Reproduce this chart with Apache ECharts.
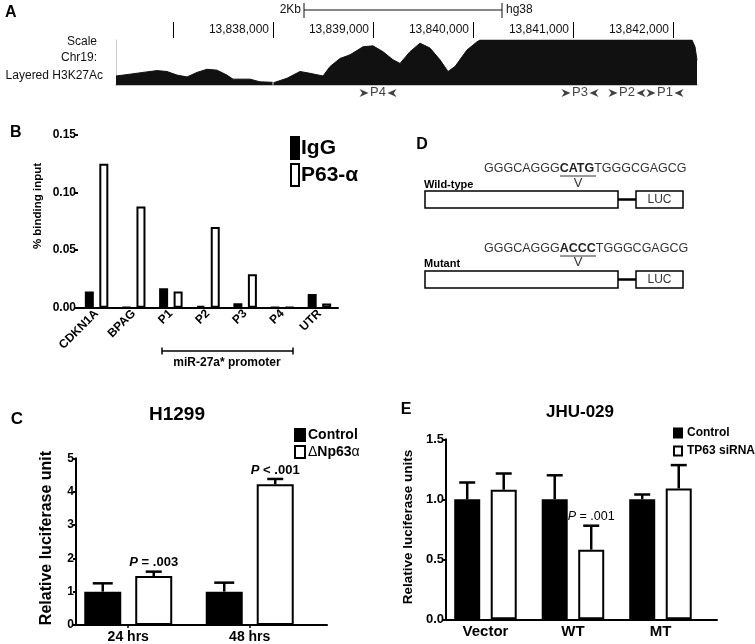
<!DOCTYPE html>
<html><head><meta charset="utf-8">
<script src="https://cdn.jsdelivr.net/npm/echarts@6/dist/echarts.min.js"></script>
<style>html,body{margin:0;padding:0;background:#fff}#c{width:755px;height:644px}</style>
</head><body><div id="c"></div>
<script>
// ---------- Panel A: H3K27Ac track ----------
const trackPos = [13836430,13836570,13836700,13836840,13836940,13837040,13837140,13837240,13837340,13837440,13837540,13837600,13837770,13837870,13837995,13838000,13838005,13838140,13838270,13838370,13838500,13838570,13838670,13838770,13838900,13839000,13839100,13839200,13839270,13839370,13839470,13839570,13839670,13839750,13839820,13839940,13840040,13840070,13842190,13842220,13842240];
const trackSignal = [20,24,28,32,30,22,18,28,35,33,22,13,13,7,6,'-',5,15,30,26,20,41,59,67,85,87,74,56,48,74,93,82,56,30,41,78,96,100,100,85,55];
const genomeTicks = [13837000,13838000,13839000,13840000,13841000,13842000];
const genomeLabels = [13838000,13839000,13840000,13841000,13842000];
const primerNames = ['P4','P3','P2','P1'];
const primerPos = [13839050,13841070,13841540,13841920];

// ---------- Panel B: ChIP ----------
const chipCategories = ['CDKN1A','BPAG','P1','P2','P3','P4','UTR'];
const chipIgG = [0.014,0.0005,0.017,0.0015,0.0038,0.0005,0.012];
const chipP63 = [0.125,0.088,0.014,0.070,0.029,0.0005,0.0037];

// ---------- Panel C: H1299 ----------
const h1299Categories = ['24 hrs','48 hrs'];
const h1299Control = [1.0,1.0];
const h1299ControlErr = [0.25,0.27];
const h1299DNp63 = [1.47,4.22];
const h1299DNp63Err = [0.13,0.16];
const h1299PValues = ['P = .003','P < .001'];

// ---------- Panel E: JHU-029 ----------
const jhuCategories = ['Vector','WT','MT'];
const jhuControl = [1.0,1.0,1.0];
const jhuControlErr = [0.14,0.2,0.04];
const jhuSiRNA = [1.08,0.58,1.09];
const jhuSiRNAErr = [0.135,0.2,0.195];
const jhuPValues = ['','P = .001',''];

const FF = '"Liberation Sans", Arial, Helvetica, sans-serif';
const trackMin = trackPos[0], trackMax = trackPos[trackPos.length-1];
const fmtComma = v => String(v).replace(/\B(?=(\d{3})+(?!\d))/g, ',');

function T(x, y, text, font, align, valign, fill, extra) {
  return Object.assign({type:'text', x:x, y:y, silent:true,
    style:{text:text, font:font + ' ' + FF, fill:fill||'#000', textAlign:align||'left', align:align||'left',
      textVerticalAlign:valign||'middle', verticalAlign:valign||'middle'}}, extra||{});
}
function L(x1,y1,x2,y2,w,c){ return {type:'line', silent:true, shape:{x1,y1,x2,y2}, style:{stroke:c||'#000', lineWidth:w||1}}; }
function R(x,y,w,h,lw){ return {type:'rect', silent:true, shape:{x,y,width:w,height:h}, style:{fill:'#fff', stroke:'#000', lineWidth:lw||1.5}}; }

function pRich(s){ return '{i|P}{n|' + s.slice(1) + '}'; }
function errSeries(xi, yi, vals, errs, offset, capW, labels, bold, fs, z) {
  return {
    type:'custom', xAxisIndex:xi, yAxisIndex:yi, z:z||5, clip:false, silent:true,
    data: vals.map((v,i)=>[i, v, errs[i]]),
    encode:{x:0, y:1},
    renderItem: function(params, api){
      const x = api.value(0), v = api.value(1), e = api.value(2);
      const p0 = api.coord([x, v]), p1 = api.coord([x, v+e]);
      const cx = p0[0] + offset;
      const ch = [
        {type:'line', shape:{x1:cx,y1:p0[1],x2:cx,y2:p1[1]}, style:{stroke:'#000', lineWidth:2.5}},
        {type:'line', shape:{x1:cx-capW/2,y1:p1[1],x2:cx+capW/2,y2:p1[1]}, style:{stroke:'#000', lineWidth:2.5}}
      ];
      if (labels && labels[params.dataIndex]) {
        const w = bold ? 'bold ' : '';
        ch.push({type:'text', x:cx, y:p1[1]-9, style:{text:pRich(labels[params.dataIndex]),
          textAlign:'center', align:'center', textVerticalAlign:'middle', verticalAlign:'middle',
          rich:{i:{font:'italic '+w+fs+'px '+FF, fill:'#000'}, n:{font:w+fs+'px '+FF, fill:'#000'}}}});
      }
      return {type:'group', children:ch};
    }
  };
}

const axisBlack = {onZero:false, lineStyle:{color:'#000', width:2}};
const noSplit = {show:false};

// bar geometry (style)
const bW_B = 9, gap_B = 0.61;
const bW_C = 37, gap_C = 0.378;
const bW_E = 26, gap_E = 0.404;

const option = {
  animation:false,
  backgroundColor:'#fff',
  textStyle:{fontFamily:FF},
  grid:[
    {left:116, right:58, top:22, height:16, outerBoundsMode:'none'},
    {left:116, right:58, top:40, height:45, outerBoundsMode:'none'},
    {left:78, top:135, width:260, height:172.7, outerBoundsMode:'none'},
    {left:76, top:458.3, width:251, height:166.7, outerBoundsMode:'none'},
    {left:446, top:439.3, width:271, height:180, outerBoundsMode:'none'}
  ],
  xAxis:[
    {gridIndex:0, type:'value', min:trackMin, max:trackMax, splitLine:noSplit, axisLine:{show:false},
      axisTick:{show:true, inside:true, length:16, customValues:genomeTicks, lineStyle:{color:'#000', width:1}},
      axisLabel:{show:true, inside:true, customValues:genomeLabels, formatter:fmtComma, align:'right', verticalAlign:'middle',
        margin:8, padding:[0,4,0,0], fontSize:12, color:'#111', fontFamily:FF}},
    {gridIndex:1, type:'value', min:trackMin, max:trackMax, splitLine:noSplit,
      axisLine:{show:true, onZero:false, lineStyle:{color:'#b0b0b0', width:1.5}}, axisTick:{show:false}, axisLabel:{show:false}},
    {gridIndex:2, type:'category', data:chipCategories, axisLine:axisBlack, axisTick:{show:false},
      axisLabel:{rotate:45, interval:0, fontSize:12, fontWeight:'bold', color:'#000', margin:4, fontFamily:FF}},
    {gridIndex:3, type:'value', min:-0.43, max:1.636, splitLine:noSplit, axisLine:axisBlack,
      axisTick:{show:true, customValues:[0,1], length:3, lineStyle:{color:'#000', width:1.5}},
      axisLabel:{customValues:[0,1], formatter:v=>h1299Categories[Math.round(v)], fontSize:14, fontWeight:'bold', color:'#000', margin:5, fontFamily:FF}},
    {gridIndex:4, type:'value', min:-0.451, max:2.646, splitLine:noSplit, axisLine:axisBlack,
      axisTick:{show:false},
      axisLabel:{customValues:[0,1,2], formatter:v=>jhuCategories[Math.round(v)], fontSize:15, fontWeight:'bold', color:'#000', margin:5, fontFamily:FF}}
  ],
  yAxis:[
    {gridIndex:0, type:'value', show:false},
    {gridIndex:1, type:'value', min:0, max:100, splitLine:noSplit,
      axisLine:{show:true, onZero:false, lineStyle:{color:'#c8c8c8', width:1}}, axisTick:{show:false}, axisLabel:{show:false}},
    {gridIndex:2, type:'value', min:0, max:0.15, interval:0.05, splitLine:noSplit, axisLine:axisBlack,
      axisTick:{show:true, length:4, lineStyle:{color:'#000', width:2}},
      axisLabel:{formatter:v=>v.toFixed(2), fontSize:12, fontWeight:'bold', color:'#000', margin:2, fontFamily:FF}},
    {gridIndex:3, type:'value', min:0, max:5, interval:1, splitLine:noSplit, axisLine:axisBlack,
      axisTick:{show:true, length:3, lineStyle:{color:'#000', width:2}},
      axisLabel:{fontSize:12, fontWeight:'bold', color:'#000', margin:2, fontFamily:FF}},
    {gridIndex:4, type:'value', min:0, max:1.5, interval:0.5, splitLine:noSplit, axisLine:axisBlack,
      axisTick:{show:true, length:3, lineStyle:{color:'#000', width:2}},
      axisLabel:{formatter:v=>v.toFixed(1), fontSize:13, fontWeight:'bold', color:'#000', margin:2, fontFamily:FF}}
  ],
  legend:[
    {left:285, top:131, orient:'vertical', icon:'rect', itemWidth:8, itemHeight:22, itemGap:3, selectedMode:false,
      data:['IgG','P63-α'], textStyle:{fontSize:21, fontWeight:'bold', color:'#000', fontFamily:FF, padding:[0,0,0,-3]}},
    {left:289, top:423, orient:'vertical', icon:'rect', itemWidth:10, itemHeight:12, itemGap:3, selectedMode:false,
      data:['Control','ΔNp63α'],
      formatter: n => n==='ΔNp63α' ? '{t|Δ}{b|Np63}{t|α}' : '{b|'+n+'}',
      textStyle:{color:'#000', fontFamily:FF, padding:[0,0,0,-2], rich:{b:{fontSize:14, fontWeight:'bold', color:'#000', fontFamily:FF}, t:{fontSize:14, color:'#000', fontFamily:FF}}}},
    {left:668, top:422, orient:'vertical', icon:'rect', itemWidth:8, itemHeight:9, itemGap:6, selectedMode:false,
      data:['Control ','TP63 siRNA'], textStyle:{fontSize:12, fontWeight:'bold', color:'#000', fontFamily:FF}}
  ],
  series:[
    {type:'line', xAxisIndex:1, yAxisIndex:1, data:trackPos.map((p,i)=>[p, trackSignal[i]]), symbol:'none', showSymbol:false,
      connectNulls:false, silent:true, lineStyle:{color:'#111', width:1}, areaStyle:{color:'#111', opacity:1}},
    {type:'scatter', xAxisIndex:1, yAxisIndex:1, clip:false, silent:true, symbolSize:0,
      data:primerPos.map((p,i)=>({value:[p,0], name:primerNames[i]})),
      label:{show:true, formatter:'{b}', position:'bottom', distance:1, fontSize:13, color:'#111', fontFamily:FF}},
    {type:'scatter', xAxisIndex:1, yAxisIndex:1, clip:false, silent:true, symbol:'path://M0,0 L10,5 L0,10 L3,5 Z', symbolSize:[9,8], symbolOffset:[-14,8],
      itemStyle:{color:'#111'}, data:primerPos.map(p=>[p,0])},
    {type:'scatter', xAxisIndex:1, yAxisIndex:1, clip:false, silent:true, symbol:'path://M10,0 L0,5 L10,10 L7,5 Z', symbolSize:[9,8], symbolOffset:[14,8],
      itemStyle:{color:'#111'}, data:primerPos.map(p=>[p,0])},

    {name:'IgG', type:'bar', xAxisIndex:2, yAxisIndex:2, data:chipIgG, barWidth:bW_B, barGap:(gap_B*100)+'%',
      itemStyle:{color:'#000', borderColor:'#000', borderWidth:2}},
    {name:'P63-α', type:'bar', xAxisIndex:2, yAxisIndex:2, data:chipP63, barWidth:bW_B, barGap:(gap_B*100)+'%',
      itemStyle:{color:'#fff', borderColor:'#000', borderWidth:2}},

    {name:'Control', type:'bar', xAxisIndex:3, yAxisIndex:3, data:h1299Control.map((v,i)=>[i,v]), barWidth:bW_C, barGap:(gap_C*100)+'%',
      itemStyle:{color:'#000', borderColor:'#000', borderWidth:2}},
    {name:'ΔNp63α', type:'bar', xAxisIndex:3, yAxisIndex:3, data:h1299DNp63.map((v,i)=>[i,v]), barWidth:bW_C, barGap:(gap_C*100)+'%',
      itemStyle:{color:'#fff', borderColor:'#000', borderWidth:2}},
    errSeries(3,3,h1299Control,h1299ControlErr,-bW_C*(1+gap_C)/2,20,null),
    errSeries(3,3,h1299DNp63,h1299DNp63Err,bW_C*(1+gap_C)/2,16,h1299PValues,true,13),

    {name:'Control ', type:'bar', xAxisIndex:4, yAxisIndex:4, data:jhuControl.map((v,i)=>[i,v]), barWidth:bW_E, barGap:(gap_E*100)+'%',
      itemStyle:{color:'#000', borderColor:'#000', borderWidth:2}},
    {name:'TP63 siRNA', type:'bar', xAxisIndex:4, yAxisIndex:4, data:jhuSiRNA.map((v,i)=>[i,v]), barWidth:bW_E, barGap:(gap_E*100)+'%',
      itemStyle:{color:'#fff', borderColor:'#000', borderWidth:2}},
    errSeries(4,4,jhuControl,jhuControlErr,-bW_E*(1+gap_E)/2,16,null),
    errSeries(4,4,jhuSiRNA,jhuSiRNAErr,bW_E*(1+gap_E)/2,16,jhuPValues,false,12.5)
  ],
  graphic:{elements:[
    // Panel A
    T(5,13,'A','bold 16px'),
    T(301,10,'2Kb','12px','right','middle','#111'),
    L(304,10,502,10,1,'#111'), L(304,3,304,18,1,'#111'), L(502,3,502,18,1,'#111'),
    T(506,10,'hg38','12px','left','middle','#111'),
    T(97,42,'Scale','12px','right','middle','#111'),
    T(97,58,'Chr19:','12px','right','middle','#111'),
    T(103,76,'Layered H3K27Ac','12px','right','middle','#111'),
    // Panel B
    T(10,133,'B','bold 16px'),
    T(38,206,'% binding input','bold 11.5px','center','middle','#000',{rotation:Math.PI/2}),
    L(162,351,293,351,1.5), L(162,347.5,162,354.5,1.5), L(293,347.5,293,354.5,1.5),
    T(227,363,'miR-27a* promoter','bold 12px','center'),
    // Panel C
    T(17,419,'C','bold 17px','center'),
    T(177,415,'H1299','bold 19px','center'),
    T(47,538,'Relative luciferase unit','bold 16px','center','middle','#000',{rotation:Math.PI/2}),
    // Panel D
    T(422,145,'D','bold 16px','center'),
    {type:'text', x:484, y:169, silent:true, style:{text:'{n|GGGCAGGG}{b|CATG}{n|TGGGCGAGCG}', textVerticalAlign:'middle', verticalAlign:'middle',
      rich:{n:{font:'12.5px '+FF, fill:'#333'}, b:{font:'bold 12.5px '+FF, fill:'#222'}}}},
    L(560,176,596,176,1,'#333'),
    T(578,183,'V','13px','center','middle','#333'),
    T(424,185,'Wild-type','bold 11px'),
    R(425,191,193,17), L(618,199.5,636,199.5,2.5), R(636,191,47,17),
    T(659.5,199.5,'LUC','12px','center','middle','#333'),
    {type:'text', x:484, y:249, silent:true, style:{text:'{n|GGGCAGGG}{b|ACCC}{n|TGGGCGAGCG}', textVerticalAlign:'middle', verticalAlign:'middle',
      rich:{n:{font:'12.5px '+FF, fill:'#333'}, b:{font:'bold 12.5px '+FF, fill:'#222'}}}},
    L(560,256,596,256,1,'#333'),
    T(578,262,'V','13px','center','middle','#333'),
    T(424,264,'Mutant','bold 11px'),
    R(425,271,193,17), L(618,279.5,636,279.5,2.5), R(636,271,47,17),
    T(659.5,279.5,'LUC','12px','center','middle','#333'),
    // Panel E
    T(406,410,'E','bold 16px','center'),
    T(580,412,'JHU-029','bold 17px','center'),
    T(408,527,'Relative luciferase units','bold 13.5px','center','middle','#000',{rotation:Math.PI/2})
  ]}
};
const chart = echarts.init(document.getElementById('c'), null, {renderer:'canvas'});
chart.setOption(option);
</script></body></html>
